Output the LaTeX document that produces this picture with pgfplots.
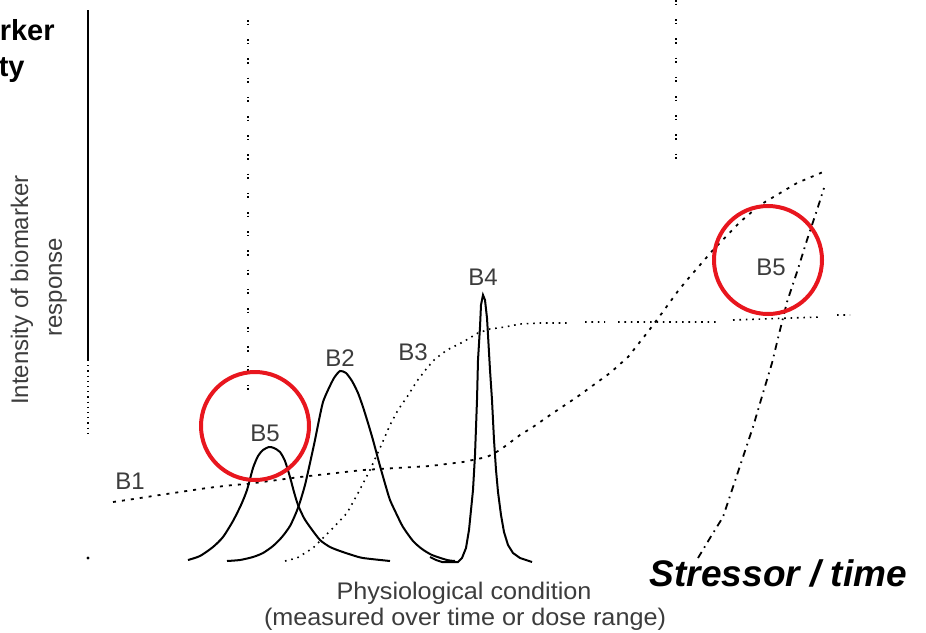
\documentclass[border=0pt]{standalone}
\usepackage{fontspec}
\setmainfont{Liberation Sans}
\usepackage{graphicx}
\usepackage{pgfplots}
\pgfplotsset{compat=1.18}
\definecolor{circred}{RGB}{232,22,30}
\definecolor{txtgray}{RGB}{60,60,60}
\begin{document}
\begin{tikzpicture}
\begin{axis}[name=ax, scale only axis, width=463pt, height=316pt,
  xmin=0, xmax=926, ymin=0, ymax=632, y dir=reverse, hide axis, clip=false,
  unbounded coords=jump]
% y axis line
\addplot[black, line width=0.9pt] coordinates {(88,10) (88,360)};
\addplot[black, line width=0.8pt, dash pattern=on 0.6pt off 2pt] coordinates {(88,360) (88,437)};
\addplot[black, only marks, mark=*, mark size=0.5pt] coordinates {(88,558)};
% vertical dotted guides
\addplot[black, line width=0.8pt, dash pattern=on 0.8pt off 1pt on 0.8pt off 7pt] coordinates {(248,20) (248,392)};
\addplot[black, line width=0.8pt, dash pattern=on 0.8pt off 1pt on 0.8pt off 7pt] coordinates {(676,0) (676,165)};
% B1
\addplot[black, line width=0.9pt, dash pattern=on 1.5pt off 3pt] coordinates {
(113,502) (127,500) (153,496) (180,492) (207,488) (233,485) (247,484) (300,477)
(363,470) (430,466) (463,462) (487,457) (500,450) (520,435) (533,427) (553,413)
(577,397) (610,373) (628,357) (647,333) (662,313) (678,291) (687,280) (713,250)
(740,222) (760,205) (797,183) (823,172)};
% B3
\addplot[black, line width=0.8pt, dash pattern=on 0.8pt off 2.4pt] coordinates {
(285,561) (297,558) (313,548) (333,528) (347,513) (357,495) (370,470) (380,448)
(390,425) (398,410) (407,397) (417,381) (427,368) (435,359) (447,350) (463,342)
(478,333) (490,329) (505,327) (520,324) (540,323) (567,323) (576,nan)
(585,322) (605,322) (611,nan)
(618,322) (718,322) (725,nan)
(733,320) (820,317) (828,nan)
(837,315) (850,315)};
% B5 right (stressor)
\addplot[black, line width=0.9pt, dash pattern=on 3.5pt off 2.5pt on 0.8pt off 2.5pt] coordinates {
(698,558) (710,538) (723,517) (733,487) (743,457) (753,427) (763,393) (772,363)
(780,330) (787,302) (797,272) (807,240) (817,210) (824,188)};
% B5 left
\addplot[black, line width=1pt, smooth, tension=0.4] coordinates {
(188,560) (200,556) (213,547) (223,537) (233,521) (241,505) (247,490) (253,468)
(258,456) (263,450) (269,447) (274,448) (280,452) (285,461) (290,477) (294,492)
(298,505) (304,518) (310,527) (320,540) (330,547) (340,551) (352,555) (363,558)
(390,561)};
% B2
\addplot[black, line width=1pt, smooth, tension=0.4] coordinates {
(227,561) (240,560) (253,557) (263,553) (273,546) (282,537) (290,526) (296,513)
(300,502) (305,485) (310,463) (315,440) (319,420) (323,402) (328,390) (334,378)
(340,371) (346,373) (352,381) (358,393) (363,407) (368,423) (373,440) (380,466)
(386,487) (390,500) (396,513) (403,527) (413,541) (422,549) (432,555) (447,560)
(455,561)};
% B4
\addplot[black, line width=1pt] coordinates {
(430,557) (436,560) (442,562) (458,562) (462,558) (466,548) (469,530) (471,510)
(473,490) (475,455) (477,400) (478,360) (480,327) (481,305) (483,295) (485,300)
(487,318) (488,335) (490,370) (492,400) (494,440) (496,470) (498,492) (501,515)
(504,532) (508,545) (513,553) (520,558) (532,562)};
% curve labels
\node[txtgray, font=\fontsize{12}{14}\selectfont] at (axis cs:130,481) {B1};
\node[txtgray, font=\fontsize{12}{14}\selectfont] at (axis cs:265,433) {B5};
\node[txtgray, font=\fontsize{12}{14}\selectfont] at (axis cs:340,358) {B2};
\node[txtgray, font=\fontsize{12}{14}\selectfont] at (axis cs:413,352) {B3};
\node[txtgray, font=\fontsize{12}{14}\selectfont] at (axis cs:483,277) {B4};
\node[txtgray, font=\fontsize{12}{14}\selectfont] at (axis cs:771,267) {B5};
% red circles
\draw[circred, line width=2pt] (axis cs:255,426) circle[radius=27pt];
\draw[circred, line width=2pt] (axis cs:768,260) circle[radius=27pt];
% y label
\node[txtgray, rotate=90, font=\fontsize{12}{14}\selectfont] at (axis cs:22,290) {Intensity of biomarker};
\node[txtgray, rotate=90, font=\fontsize{12}{14}\selectfont] at (axis cs:58,287) {response};
% x label
\node[txtgray, font=\fontsize{12}{14}\selectfont] at (axis cs:464,593) {\scalebox{1.05}[1]{Physiological condition}};
\node[txtgray, font=\fontsize{12}{14}\selectfont] at (axis cs:465,619) {\scalebox{1.05}[1]{(measured over time or dose range)}};
% stressor
\node[anchor=base east, font=\fontsize{18.5}{22}\selectfont\bfseries\itshape] at (axis cs:914,586) {Stressor / time};
% top-left title (cut off at the left edge, as in the reference)
\node[anchor=base east, inner sep=0pt, font=\fontsize{14.5}{17}\selectfont\bfseries] at (axis cs:55,40) {Biomarker};
\node[anchor=base east, inner sep=0pt, font=\fontsize{14.5}{17}\selectfont\bfseries] at (axis cs:25,76) {intensity};
\end{axis}
\pgfresetboundingbox
\useasboundingbox (ax.south west) rectangle (ax.north east);
\end{tikzpicture}
\end{document}
